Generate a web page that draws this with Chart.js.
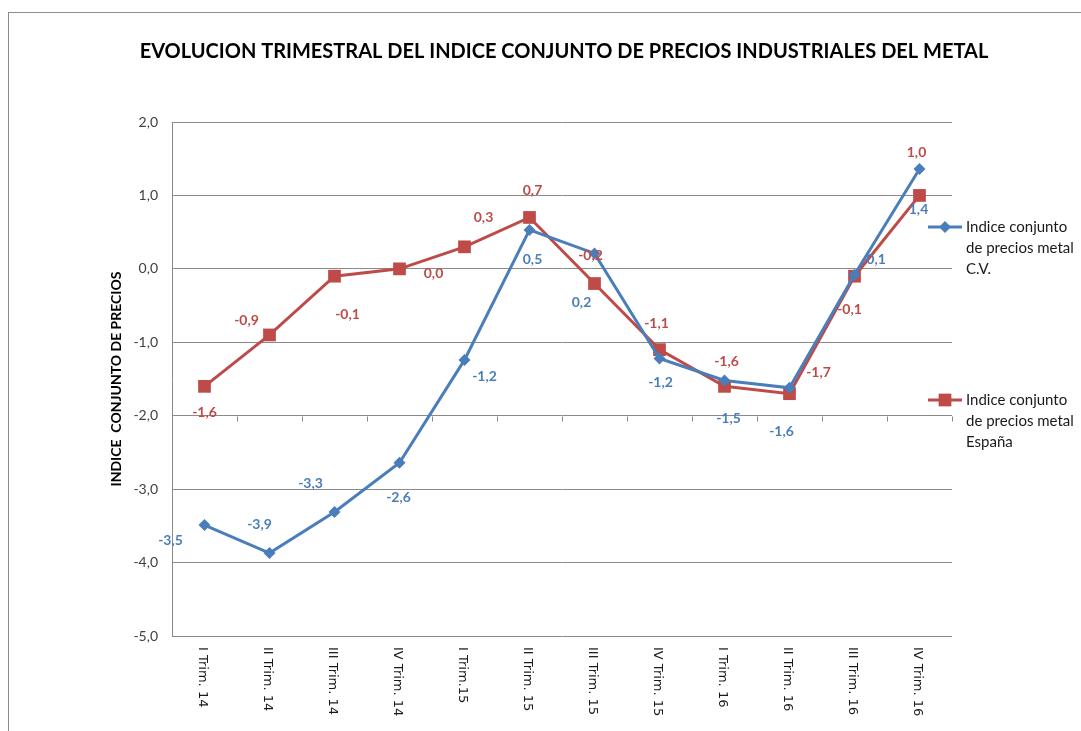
<!DOCTYPE html>
<html>
<head>
<meta charset="utf-8">
<script src="https://cdn.jsdelivr.net/npm/chart.js@4.4.1/dist/chart.umd.min.js"></script>
<style>
  html, body { margin: 0; padding: 0; background: #fff; }
  #wrap { position: relative; width: 1081px; height: 731px; }
</style>
</head>
<body>
<div id="wrap"><canvas id="chart" width="1081" height="731"></canvas></div>
<script>
// data
const categories = ['I Trim. 14', 'II Trim. 14', 'III Trim. 14', 'IV Trim. 14', 'I Trim.15', 'II Trim. 15',
  'III Trim. 15', 'IV Trim. 15', 'I Trim. 16', 'II Trim. 16', 'III Trim. 16', 'IV Trim. 16']
const cvValues = [-3.49, -3.87, -3.31, -2.64, -1.24, 0.53, 0.21, -1.22, -1.52, -1.62, -0.08, 1.36]
const espValues = [-1.6, -0.9, -0.1, 0.0, 0.3, 0.7, -0.2, -1.1, -1.6, -1.7, -0.1, 1.0]
const yTicks = [2, 1, 0, -1, -2, -3, -4, -5]

const titleText = 'EVOLUCION TRIMESTRAL DEL INDICE CONJUNTO DE PRECIOS INDUSTRIALES DEL METAL'
const cvName = ['Indice conjunto', 'de precios metal', 'C.V.']
const espName = ['Indice conjunto', 'de precios metal', 'España']

// where each value label sits relative to its point (style only)
const cvLabelOffsets = [[-34,15],[-10,-29],[-24,-28],[-1,35],[20,17],[3,30],[-13,49],[1,24],[4,38],[-8,44],[19,-15],[-1,40]]
const espLabelOffsets = [[0,26],[-23,-14],[13,38],[34,5],[19,-29],[3,-27],[-4,-28],[-3,-26],[2,-25],[29,-21],[-5,33],[-3,-43]]

const BLUE = '#4A7EBB'
const RED = '#BE4B48'
const GRID = '#8a8a8a'

const fmt = v => v.toFixed(1).replace('.', ',')

const decorations = {
  id: 'decorations',
  beforeDatasetsDraw(chart){
    const ctx = chart.ctx
    const y = chart.scales.y
    // category axis crosses at -2: tick marks at the boundaries
    const y0 = Math.round(y.getPixelForValue(-2)) + 0.5
    ctx.save()
    ctx.strokeStyle = GRID
    ctx.lineWidth = 1
    ctx.beginPath()
    const step = (chart.chartArea.right - chart.chartArea.left) / categories.length
    for(let i = 1; i <= categories.length; i++){
      const px = Math.round(chart.chartArea.left + i * step) + 0.5
      ctx.moveTo(px, y0)
      ctx.lineTo(px, y0 + 5)
    }
    ctx.stroke()
    ctx.restore()
  },
  afterDraw(chart){
    const ctx = chart.ctx
    const x = chart.scales.x
    ctx.save()
    // outer frame
    ctx.strokeStyle = '#8c8c8c'
    ctx.lineWidth = 1
    ctx.strokeRect(8.5, 12.5, 1200, 800)

    // title
    ctx.fillStyle = '#000'
    ctx.font = 'bold 20px Lato'
    ctx.textAlign = 'center'
    ctx.textBaseline = 'middle'
    ctx.fillText(titleText, 564, 52)

    // x labels, rotated clockwise
    ctx.font = '13px "DejaVu Sans"'
    ctx.fillStyle = '#1a1a1a'
    ctx.textAlign = 'left'
    categories.forEach((lab, i) => {
      const px = x.getPixelForValue(i)
      ctx.save()
      ctx.translate(px - 2, 647)
      ctx.rotate(Math.PI / 2)
      ctx.fillText(lab, 0, 0)
      ctx.restore()
    })

    // value labels
    ctx.font = 'bold 14px Lato'
    ctx.textAlign = 'center'
    const sets = [[0, cvValues, cvLabelOffsets, BLUE], [1, espValues, espLabelOffsets, RED]]
    sets.forEach(([di, vals, offs, col]) => {
      const meta = chart.getDatasetMeta(di)
      ctx.fillStyle = col
      meta.data.forEach((pt, i) => {
        ctx.fillText(fmt(vals[i]), pt.x + offs[i][0], pt.y + offs[i][1])
      })
    })

    // legend
    const legend = [[cvName, BLUE, 'rectRot', 227], [espName, RED, 'rect', 400]]
    legend.forEach(([lines, col, style, ly]) => {
      ctx.strokeStyle = col
      ctx.lineWidth = 3
      ctx.beginPath()
      ctx.moveTo(928, ly)
      ctx.lineTo(962, ly)
      ctx.stroke()
      ctx.fillStyle = col
      Chart.helpers.drawPoint(ctx, {pointStyle: style, radius: style == 'rect' ? 9 : 6, borderWidth: 0}, 945, ly)
      ctx.fillStyle = '#1a1a1a'
      ctx.font = '15px Lato'
      ctx.textAlign = 'left'
      lines.forEach((t, k) => ctx.fillText(t, 966, ly + k * 21))
    })
    ctx.restore()
  }
}

const chartEle = document.getElementById('chart')
const chart = new Chart(chartEle, {
  type: 'line',
  data: {
    labels: categories,
    datasets: [{
      label: cvName.join(' '),
      data: cvValues,
      borderColor: BLUE,
      backgroundColor: BLUE,
      borderWidth: 3,
      pointStyle: 'rectRot',
      pointRadius: 6,
      pointBorderWidth: 0,
      tension: 0,
    }, {
      label: espName.join(' '),
      data: espValues,
      borderColor: RED,
      backgroundColor: RED,
      borderWidth: 3,
      pointStyle: 'rect',
      pointRadius: 9,
      pointBorderWidth: 0,
      tension: 0,
    }]
  },
  options: {
    responsive: false,
    animation: false,
    layout: {padding: {left: 100, right: 129, top: 122, bottom: 95}},
    plugins: {
      legend: {display: false},
      title: {display: false},
      tooltip: {enabled: false},
    },
    scales: {
      x: {
        offset: true,
        grid: {display: false, drawTicks: false},
        border: {display: false},
        ticks: {display: false},
      },
      y: {
        min: -5,
        max: 2,
        afterBuildTicks: s => { s.ticks = yTicks.map(v => ({value: v})) },
        afterFit: s => { s.width = 72 },
        grid: {color: GRID, drawTicks: false},
        border: {display: true, color: GRID},
        ticks: {
          padding: 14,
          color: '#404040',
          font: {family: 'Lato', size: 14},
          callback: v => fmt(v),
        },
        title: {
          display: true,
          text: 'INDICE  CONJUNTO DE PRECIOS',
          color: '#000',
          font: {family: 'Lato', size: 14, weight: 'bold'},
          padding: {top: 8, bottom: 0},
        },
      }
    }
  },
  plugins: [decorations]
})
</script>
</body>
</html>
